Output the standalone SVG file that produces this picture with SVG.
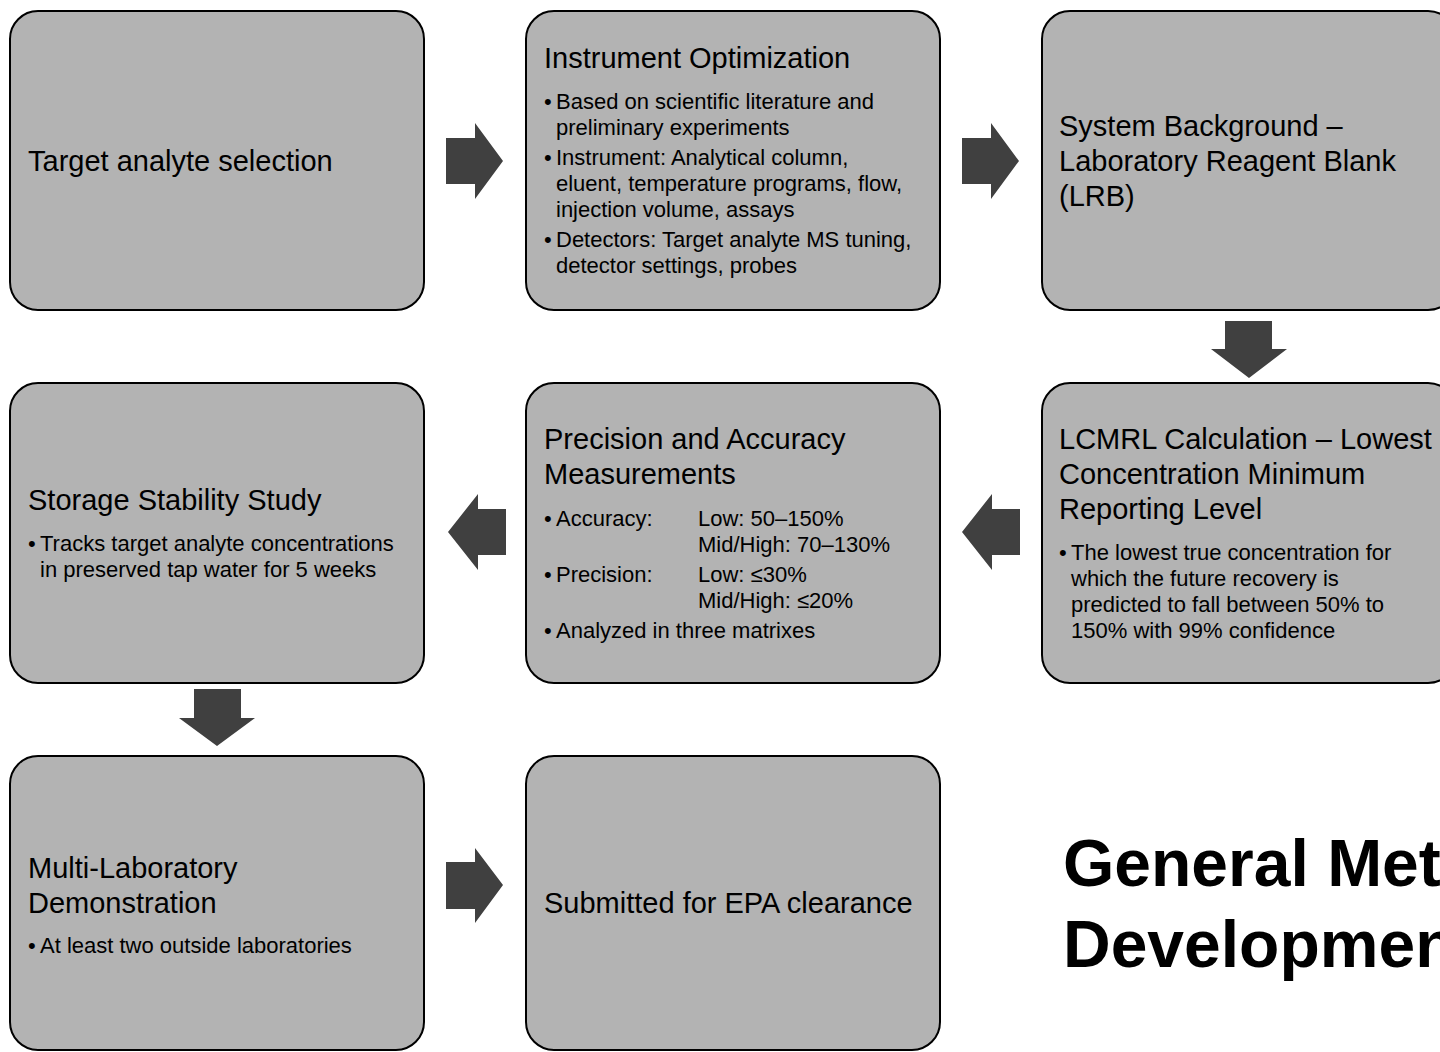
<svg xmlns="http://www.w3.org/2000/svg" width="1440" height="1052" viewBox="0 0 1440 1052">
<style>
.box{fill:#b3b3b3;stroke:#000;stroke-width:2}
.arr{fill:#404040}
text{font-family:"Liberation Sans",Arial,sans-serif;fill:#000}
.t{font-size:29px}
.b{font-size:22px}
.big{font-size:66px;font-weight:bold}
</style>
<rect width="1440" height="1052" fill="#fff"/>
<g id="connectors">
<polygon class="arr" points="446,138 475,138 475,123 503,161 475,199 475,184 446,184"/>
<polygon class="arr" points="962,138 991,138 991,123 1019,161 991,199 991,184 962,184"/>
<polygon class="arr" points="1225,321 1272,321 1272,349 1287,349 1249,378 1211,349 1225,349"/>
<polygon class="arr" points="1020,509 992,509 992,494 962,532 992,570 992,555 1020,555"/>
<polygon class="arr" points="506,509 478,509 478,494 448,532 478,570 478,555 506,555"/>
<polygon class="arr" points="194,689 241,689 241,718 255,718 217,746 179,718 194,718"/>
<polygon class="arr" points="446,862 475,862 475,848 503,885 475,923 475,909 446,909"/>
</g>
<g id="n1">
<rect class="box" x="10" y="11" width="414" height="299" rx="28"/>
<text class="t" x="28" y="171">Target analyte selection</text>
</g>
<g id="n2">
<rect class="box" x="526" y="11" width="414" height="299" rx="28"/>
<text class="t" x="544" y="68">Instrument Optimization</text>
<g class="b">
<text class="b" x="544" y="109">•</text>
<text class="b" x="556" y="109">Based on scientific literature and</text>
<text class="b" x="556" y="135">preliminary experiments</text>
<text class="b" x="544" y="165">•</text>
<text class="b" x="556" y="165">Instrument: Analytical column,</text>
<text class="b" x="556" y="191">eluent, temperature programs, flow,</text>
<text class="b" x="556" y="217">injection volume, assays</text>
<text class="b" x="544" y="247">•</text>
<text class="b" x="556" y="247">Detectors: Target analyte MS tuning,</text>
<text class="b" x="556" y="273">detector settings, probes</text>
</g>
</g>
<g id="n3">
<rect class="box" x="1042" y="11" width="414" height="299" rx="28"/>
<text class="t" x="1059" y="136">System Background –</text>
<text class="t" x="1059" y="171">Laboratory Reagent Blank</text>
<text class="t" x="1059" y="206">(LRB)</text>
</g>
<g id="n4">
<rect class="box" x="1042" y="383" width="414" height="300" rx="28"/>
<text class="t" x="1059" y="449">LCMRL Calculation – Lowest</text>
<text class="t" x="1059" y="484">Concentration Minimum</text>
<text class="t" x="1059" y="519">Reporting Level</text>
<text class="b" x="1059" y="560">•</text>
<text class="b" x="1071" y="560">The lowest true concentration for</text>
<text class="b" x="1071" y="586">which the future recovery is</text>
<text class="b" x="1071" y="612">predicted to fall between 50% to</text>
<text class="b" x="1071" y="638">150% with 99% confidence</text>
</g>
<g id="n5">
<rect class="box" x="526" y="383" width="414" height="300" rx="28"/>
<text class="t" x="544" y="449">Precision and Accuracy</text>
<text class="t" x="544" y="484">Measurements</text>
<text class="b" x="544" y="526">•</text>
<text class="b" x="556" y="526">Accuracy:</text>
<text class="b" x="698" y="526">Low: 50–150%</text>
<text class="b" x="698" y="552">Mid/High: 70–130%</text>
<text class="b" x="544" y="582">•</text>
<text class="b" x="556" y="582">Precision:</text>
<text class="b" x="698" y="582">Low: ≤30%</text>
<text class="b" x="698" y="608">Mid/High: ≤20%</text>
<text class="b" x="544" y="638">•</text>
<text class="b" x="556" y="638">Analyzed in three matrixes</text>
</g>
<g id="n6">
<rect class="box" x="10" y="383" width="414" height="300" rx="28"/>
<text class="t" x="28" y="510">Storage Stability Study</text>
<text class="b" x="28" y="551">•</text>
<text class="b" x="40" y="551">Tracks target analyte concentrations</text>
<text class="b" x="40" y="577">in preserved tap water for 5 weeks</text>
</g>
<g id="n7">
<rect class="box" x="10" y="756" width="414" height="294" rx="28"/>
<text class="t" x="28" y="878">Multi-Laboratory</text>
<text class="t" x="28" y="913">Demonstration</text>
<text class="b" x="28" y="953">•</text>
<text class="b" x="40" y="953">At least two outside laboratories</text>
</g>
<g id="n8">
<rect class="box" x="526" y="756" width="414" height="294" rx="28"/>
<text class="t" x="544" y="913">Submitted for EPA clearance</text>
</g>
<g id="title">
<text class="big" x="1063" y="886">General Method</text>
<text class="big" x="1063" y="967">Development</text>
</g>
</svg>
